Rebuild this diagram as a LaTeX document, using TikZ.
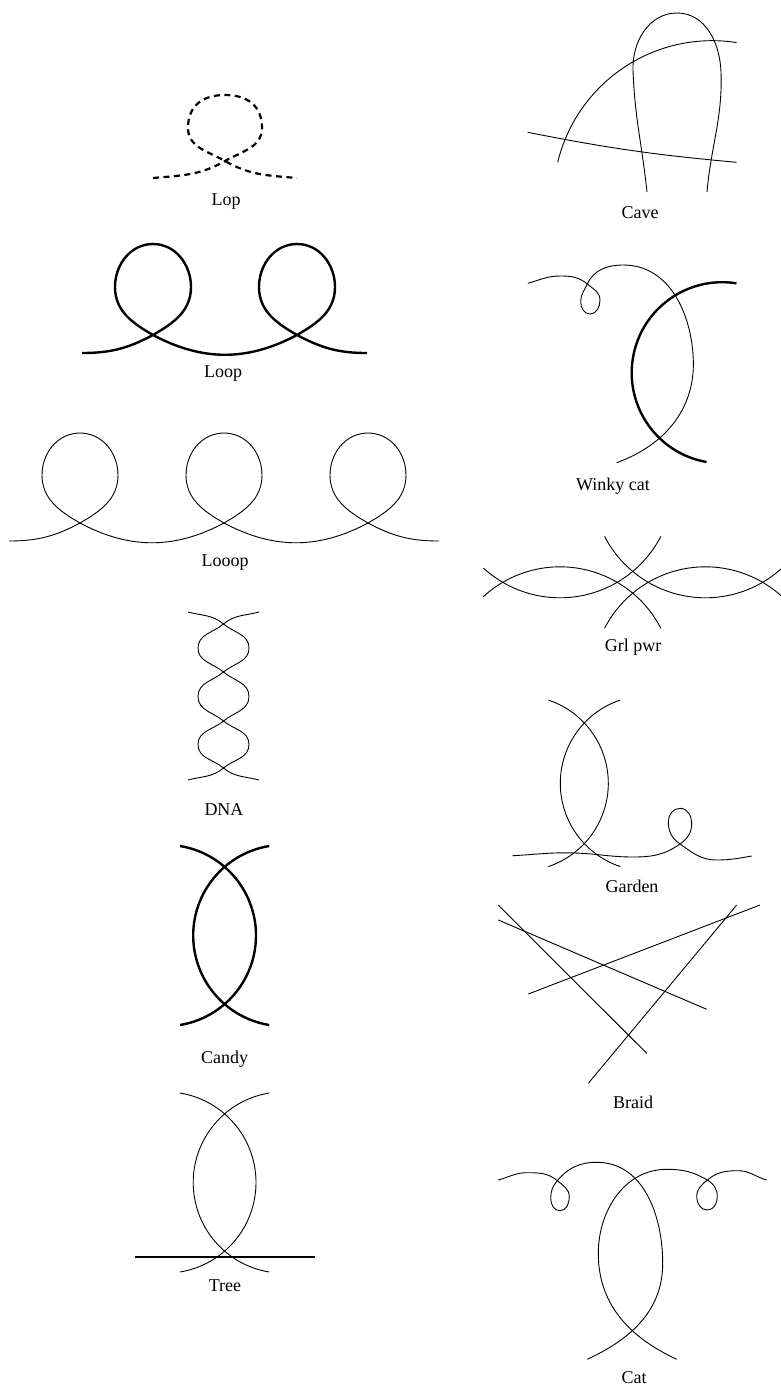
\documentclass[tikz,border=0pt]{standalone}
\usepackage{fontspec}
\setmainfont{Liberation Serif}
\begin{document}
\begin{tikzpicture}[x=1pt,y=1pt,
  thin line/.style={line width=0.9pt},
  thick line/.style={line width=2.4pt},
  dash line/.style={line width=2.2pt, dash pattern=on 6pt off 4.5pt},
  lbl/.style={anchor=base, inner sep=0pt, font=\fontsize{18}{20}\selectfont}]
\useasboundingbox (0,0) rectangle (781,-1387);

% ---------- Lop ----------
\draw[dash line] (153,-178) to[out=5,in=210] (225,-161) to[out=30,in=-90] (262,-128)
  to[out=90,in=0,looseness=1.15] (225,-95) to[out=180,in=90,looseness=1.15] (188,-128) to[out=-90,in=150] (225,-161)
  to[out=-30,in=175] (297,-178);
\node[lbl] (lop) at (226,-205) {Lop};

% ---------- Loop ----------
\draw[thick line] (82,-353) to[out=0,in=208] (153,-335) to[out=30,in=-90] (191,-287)
  to[out=90,in=0] (153,-244) to[out=180,in=90] (115,-287) to[out=-90,in=150] (153,-335)
  to[out=-28,in=208] (297,-335) to[out=30,in=-90] (335,-287)
  to[out=90,in=0] (297,-244) to[out=180,in=90] (259,-287) to[out=-90,in=150] (297,-335)
  to[out=-28,in=180] (367,-353);
\node[lbl] (loop) at (223,-377) {Loop};

% ---------- Looop ----------
\draw[thin line] (9,-541) to[out=0,in=208] (80,-523) to[out=30,in=-90] (118,-475)
  to[out=90,in=0] (80,-433) to[out=180,in=90] (42,-475) to[out=-90,in=150] (80,-523)
  to[out=-28,in=208] (224,-523) to[out=30,in=-90] (262,-475)
  to[out=90,in=0] (224,-433) to[out=180,in=90] (186,-475) to[out=-90,in=150] (224,-523)
  to[out=-28,in=208] (368,-523) to[out=30,in=-90] (406,-475)
  to[out=90,in=0] (368,-433) to[out=180,in=90] (330,-475) to[out=-90,in=150] (368,-523)
  to[out=-28,in=180] (439,-541);
\node[lbl] (looop) at (225,-566) {Looop};

% ---------- DNA ----------
\draw[thin line] (188,-612) to[out=-15,in=140] (223.5,-624) to[out=-40,in=90] (249,-648)
  to[out=-90,in=40] (223.5,-672) to[out=-140,in=90] (198,-696.5) to[out=-90,in=140] (223.5,-721)
  to[out=-40,in=90] (249,-744.5) to[out=-90,in=40] (223.5,-768) to[out=-140,in=15] (188,-780);
\draw[thin line] (259,-612) to[out=195,in=40] (223.5,-624) to[out=-140,in=90] (198,-648)
  to[out=-90,in=140] (223.5,-672) to[out=-40,in=90] (249,-696.5) to[out=-90,in=40] (223.5,-721)
  to[out=-140,in=90] (198,-744.5) to[out=-90,in=140] (223.5,-768) to[out=-40,in=165] (259,-780);
\node[lbl] (dna) at (224,-815) {DNA};

% ---------- Candy ----------
\draw[thick line] ([shift={(165.3,-935.5)}]80.7:90.7) arc[start angle=80.7,end angle=-80.7,radius=90.7];
\draw[thick line] ([shift={(283.9,-935.5)}]99.3:90.7) arc[start angle=99.3,end angle=260.7,radius=90.7];
\node[lbl] (candy) at (224.5,-1063) {Candy};

% ---------- Tree ----------
\draw[thin line] ([shift={(165.3,-1182.5)}]80.7:90.7) arc[start angle=80.7,end angle=-80.7,radius=90.7];
\draw[thin line] ([shift={(283.9,-1182.5)}]99.3:90.7) arc[start angle=99.3,end angle=260.7,radius=90.7];
\coordinate (tl) at (135,-1257);
\coordinate (tr) at (315,-1257);
\draw[thick line] (tl) -- (tr);
\node[lbl] (tree) at (225,-1291) {Tree};

% ---------- Cave ----------
\draw[thin line] (647,-192) to[out=96,in=-88] (633,-70) to[out=92,in=180] (677,-13)
  to[out=0,in=92] (721,-72) to[out=-88,in=85] (707,-192);
\draw[thin line] (557.7,-162.3) arc[start angle=166.4,end angle=81.2,radius=159];
\coordinate (cl) at (527.7,-132.3);
\coordinate (cr) at (736.7,-162.3);
\draw[thin line] (cl) to[bend right=3] (cr);
\node[lbl] (cave) at (640,-218) {Cave};

% ---------- Winky cat ----------
\draw[thin line] (527.7,-283.3) to[out=15,in=180] (560,-276) to[out=0,in=140] (587.3,-284)
  to[out=-40,in=90] (600,-300) to[out=-90,in=0] (590,-314) to[out=180,in=-90] (580.7,-301.7)
  to[out=90,in=-115] (587.3,-284) to[out=65,in=180] (623.3,-265) to[out=0,in=92] (693.3,-360)
  to[out=-88,in=20] (616.7,-462.7);
\draw[thick line] ([shift={(722.3,-372.8)}]81:90.6) arc[start angle=81,end angle=260,radius=90.6];
\node[lbl] (winky) at (613,-490) {Winky cat};

% ---------- Grl pwr ----------
\draw[thin line] ([shift={(560,-680.3)}]132.7:113.5) arc[start angle=132.7,end angle=27.3,radius=113.5];
\draw[thin line] ([shift={(560,-484.3)}]227.6:113.5) arc[start angle=227.6,end angle=332.7,radius=113.5];
\draw[thin line] ([shift={(705.4,-680.3)}]47.3:113.5) arc[start angle=47.3,end angle=152.7,radius=113.5];
\draw[thin line] ([shift={(705.4,-484.3)}]-47.6:113.5) arc[start angle=-47.6,end angle=-152.7,radius=113.5];
\node[lbl] (grl) at (633,-651) {Grl pwr};

% ---------- Garden ----------
\draw[thin line] ([shift={(520.5,-783.3)}]71.5:87.8) arc[start angle=71.5,end angle=-71.5,radius=87.8];
\draw[thin line] ([shift={(648.1,-783.3)}]108.5:87.8) arc[start angle=108.5,end angle=251.5,radius=87.8];
\draw[thin line] (512.7,-855.7) to[out=3,in=178] (575,-853) to[out=-2,in=180] (633.3,-857)
  to[out=0,in=215] (680,-844) to[out=35,in=-90] (691.7,-823.3) to[out=90,in=0] (680,-808.3)
  to[out=180,in=90] (668.3,-821.7) to[out=-90,in=145] (680,-844) to[out=-35,in=180] (716.7,-860)
  to[out=0,in=190] (751.7,-856);
\node[lbl] (garden) at (632,-892) {Garden};

% ---------- Braid ----------
\coordinate (b1a) at (498.3,-905);  \coordinate (b1b) at (646.7,-1053.3);
\coordinate (b2a) at (498.3,-920);  \coordinate (b2b) at (706.7,-1009.3);
\coordinate (b3a) at (528.3,-994);  \coordinate (b3b) at (760,-905);
\coordinate (b4a) at (588.3,-1083.3); \coordinate (b4b) at (736.7,-905);
\draw[thin line] (b1a) -- (b1b);
\draw[thin line] (b2a) -- (b2b);
\draw[thin line] (b3a) -- (b3b);
\draw[thin line] (b4a) -- (b4b);
\node[lbl] (braid) at (633,-1108) {Braid};

% ---------- Cat ----------
\draw[thin line] (498.3,-1180) to[out=15,in=180] (526.7,-1172.7) to[out=0,in=140] (557.3,-1180.7)
  to[out=-40,in=90] (569.3,-1196.7) to[out=-90,in=0] (560,-1210.7) to[out=180,in=-90] (550.7,-1198.3)
  to[out=90,in=230] (557.3,-1180.7) to[out=50,in=180] (596.7,-1162.3) to[out=0,in=90] (662.7,-1263.3)
  to[out=-90,in=25] (587.3,-1359.3);
\draw[thin line] (766.7,-1180) to[out=165,in=0] (738.3,-1170.7) to[out=180,in=40] (707.3,-1180)
  to[out=-140,in=90] (696.7,-1196.7) to[out=-90,in=180] (707.3,-1210) to[out=0,in=-90] (717.3,-1196.7)
  to[out=90,in=-30] (707.3,-1180) to[out=150,in=0] (666.7,-1169.3) to[out=180,in=90] (598.3,-1253.3)
  to[out=-90,in=155] (676.7,-1359.3);
\node[lbl] (cat) at (634,-1383) {Cat};
\end{tikzpicture}
\end{document}
